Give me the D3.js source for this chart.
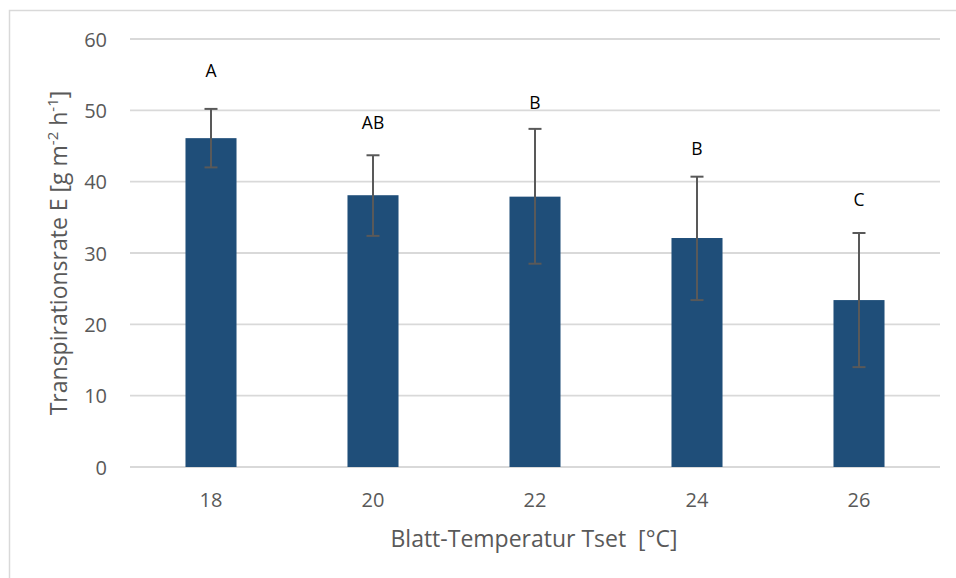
<!DOCTYPE html>
<html>
<head>
<meta charset="utf-8">
<script src="https://cdn.jsdelivr.net/npm/d3@7"></script>
<style>
  html, body { margin: 0; padding: 0; background: #fff; }
  svg { display: block; }
  text { white-space: pre; }
</style>
</head>
<body>
<svg id="chart" width="956" height="578"></svg>
<script>
// ---- data ----
const categories = ["18", "20", "22", "24", "26"];
const means = [46.1, 38.1, 37.9, 32.1, 23.4];
const errUpper = [50.2, 43.7, 47.4, 40.7, 32.8];
const errLower = [42.0, 32.4, 28.5, 23.4, 14.0];
const groupLetters = ["A", "AB", "B", "B", "C"];
const letterLevels = [55.6, 48.2, 51.1, 44.6, 37.5];
const yTicks = [0, 10, 20, 30, 40, 50, 60];
const xTitle = "Blatt-Temperatur Tset  [°C]";

(function () {
// ---- layout ----
const svg = d3.select("#chart");
const font = "'Open Sans', 'Noto Sans', sans-serif";
const plotLeft = 130, plotRight = 940, plotTop = 39, plotBottom = 467;

// outer frame (only left/top edges visible)
svg.append("rect").attr("x", 9.5).attr("y", 10.5).attr("width", 1000).attr("height", 1000)
  .attr("fill", "none").attr("stroke", "#d9d9d9").attr("stroke-width", 1.5);

const pi = 0.685;
const x = d3.scaleBand().domain(categories).range([plotLeft, plotRight]).paddingInner(pi).paddingOuter(pi / 2);
const y = d3.scaleLinear().domain([0, 60]).range([plotBottom, plotTop]);

// gridlines
svg.append("g").selectAll("line").data(yTicks).join("line")
  .attr("x1", plotLeft).attr("x2", plotRight)
  .attr("y1", d => y(d)).attr("y2", d => y(d))
  .attr("stroke", "#d9d9d9").attr("stroke-width", 1.8);

// y axis labels
const yAxis = d3.axisLeft(y).tickValues(yTicks).tickSize(0).tickPadding(0);
const gy = svg.append("g").attr("transform", `translate(107,0)`).call(yAxis);
gy.select(".domain").remove();
gy.selectAll("text").attr("font-family", font).attr("font-size", 20).attr("fill", "#595959")
  .attr("dy", "0.35em");

// x axis labels
const xAxis = d3.axisBottom(x).tickSize(0).tickPadding(0);
const gx = svg.append("g").attr("transform", `translate(0,${plotBottom})`).call(xAxis);
gx.select(".domain").remove();
gx.selectAll("text").attr("font-family", font).attr("font-size", 20).attr("fill", "#595959")
  .attr("y", 39.5).attr("dy", 0);

// bars
svg.append("g").selectAll("rect").data(categories).join("rect")
  .attr("x", d => x(d)).attr("width", x.bandwidth())
  .attr("y", (d, i) => y(means[i])).attr("height", (d, i) => y(0) - y(means[i]))
  .attr("fill", "#1F4E79");

// error bars
const cap = 6.5;
const eg = svg.append("g").attr("stroke", "#595959").attr("stroke-width", 2);
categories.forEach((c, i) => {
  const cx = x(c) + x.bandwidth() / 2;
  eg.append("line").attr("x1", cx).attr("x2", cx).attr("y1", y(errUpper[i])).attr("y2", y(errLower[i]));
  eg.append("line").attr("x1", cx - cap).attr("x2", cx + cap).attr("y1", y(errUpper[i])).attr("y2", y(errUpper[i]));
  eg.append("line").attr("x1", cx - cap).attr("x2", cx + cap).attr("y1", y(errLower[i])).attr("y2", y(errLower[i]));
});

// significance letters
svg.append("g").selectAll("text").data(categories).join("text")
  .attr("x", d => x(d) + x.bandwidth() / 2)
  .attr("y", (d, i) => y(letterLevels[i]))
  .attr("dy", "0.35em")
  .attr("text-anchor", "middle")
  .attr("font-family", font).attr("font-size", 17.5).attr("fill", "#000")
  .text((d, i) => groupLetters[i]);

// x title
svg.append("text").attr("x", 534).attr("y", 547).attr("text-anchor", "middle")
  .attr("font-family", font).attr("font-size", 23).attr("fill", "#595959")
  .text(xTitle);

// y title with superscripts
const yt = svg.append("text")
  .attr("transform", "translate(67,253) rotate(-90)")
  .attr("text-anchor", "middle")
  .attr("font-family", font).attr("font-size", 23).attr("fill", "#595959");
yt.append("tspan").text("Transpirationsrate E [g m");
yt.append("tspan").attr("dy", -9).attr("font-size", 15).text("-2");
yt.append("tspan").attr("dy", 9).text(" h");
yt.append("tspan").attr("dy", -9).attr("font-size", 15).text("-1");
yt.append("tspan").attr("dy", 9).text("]");
})();
</script>
</body>
</html>
